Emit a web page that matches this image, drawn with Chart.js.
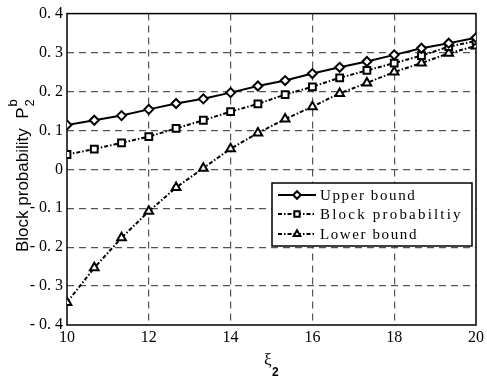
<!DOCTYPE html>
<html>
<head>
<meta charset="utf-8">
<script src="https://cdn.jsdelivr.net/npm/chart.js@4/dist/chart.umd.min.js"></script>
<style>
  html, body { margin: 0; padding: 0; background: #fff; }
  #wrap { width: 487px; height: 378px; position: relative; }
</style>
</head>
<body>
<div id="wrap"><canvas id="c"></canvas></div>
<script>
// ---- data ----
const xValues = [10, 10.667, 11.333, 12, 12.667, 13.333, 14, 14.667, 15.333, 16, 16.667, 17.333, 18, 18.667, 19.333, 20];
const upperBound = [0.114, 0.126, 0.138, 0.154, 0.169, 0.181, 0.197, 0.214, 0.228, 0.246, 0.262, 0.277, 0.294, 0.311, 0.324, 0.338];
const blockProb  = [0.038, 0.052, 0.068, 0.084, 0.105, 0.126, 0.148, 0.168, 0.192, 0.212, 0.235, 0.254, 0.273, 0.292, 0.315, 0.330];
const lowerBound = [-0.342, -0.253, -0.176, -0.108, -0.047, 0.003, 0.053, 0.093, 0.129, 0.161, 0.195, 0.222, 0.250, 0.273, 0.298, 0.317];
const seriesLabels = ['Upper bound', 'Block probabiltiy', 'Lower bound'];
const yTickLabels = ['- 0. 4', '- 0. 3', '- 0. 2', '- 0. 1', '0', '0. 1', '0. 2', '0. 3', '0. 4'];
const xTickLabels = ['10', '12', '14', '16', '18', '20'];
const yTitle = 'Block probability  P';
const xTitle = '\u03BE';

const pts = arr => arr.map((v, i) => ({ x: xValues[i], y: v }));
const SERIF = '"Liberation Serif", "DejaVu Serif", serif';
const SANS = '"Liberation Sans", Arial, sans-serif';

const styles = [
  { pointStyle: 'rectRot', radius: 4.5, dash: [] },
  { pointStyle: 'rect', radius: 4.8, dash: [4, 2, 1.5, 2] },
  { pointStyle: 'triangle', radius: 5, dash: [4, 2, 1.5, 2] }
];
const seriesData = [upperBound, blockProb, lowerBound];

const datasets = seriesData.map((arr, i) => ({
  label: seriesLabels[i],
  data: pts(arr),
  borderColor: '#000',
  backgroundColor: '#fff',
  borderWidth: 2,
  borderDash: styles[i].dash,
  pointStyle: styles[i].pointStyle,
  pointRadius: styles[i].radius,
  pointBorderWidth: 2,
  pointBackgroundColor: '#fff',
  pointBorderColor: '#000',
  tension: 0
}));

function drawMarker(ctx, style, r, x, y) {
  if (Chart.helpers && Chart.helpers.drawPoint) {
    Chart.helpers.drawPoint(ctx, { pointStyle: style, rotation: 0, radius: r, borderWidth: 2 }, x, y);
  }
}

const decor = {
  id: 'decor',
  beforeDatasetsDraw(chart) {
    const { ctx, chartArea: a } = chart;
    ctx.save();
    ctx.strokeStyle = '#000';
    ctx.lineWidth = 1.5;
    ctx.setLineDash([]);
    ctx.strokeRect(a.left, a.top, a.right - a.left, a.bottom - a.top);
    ctx.restore();
  },
  afterDraw(chart) {
    const { ctx, chartArea: a } = chart;
    ctx.save();
    // legend
    const lx = 272, ly = 183, lw = 200, lh = 63;
    ctx.fillStyle = '#fff';
    ctx.fillRect(lx, ly, lw, lh);
    ctx.strokeStyle = '#000';
    ctx.lineWidth = 1.5;
    ctx.setLineDash([]);
    ctx.strokeRect(lx, ly, lw, lh);
    const rowsY = [195, 214, 234];
    chart.data.datasets.forEach((ds, i) => {
      const y = rowsY[i];
      ctx.save();
      ctx.strokeStyle = '#000';
      ctx.lineWidth = 2;
      ctx.setLineDash(ds.borderDash);
      ctx.beginPath();
      ctx.moveTo(278, y);
      ctx.lineTo(316, y);
      ctx.stroke();
      ctx.setLineDash([]);
      ctx.fillStyle = '#fff';
      ctx.strokeStyle = '#000';
      ctx.lineWidth = 2;
      drawMarker(ctx, ds.pointStyle, 3.8, 297, y);
      ctx.restore();
      ctx.fillStyle = '#000';
      ctx.font = '15px ' + SERIF;
      ctx.letterSpacing = i === 1 ? '2.2px' : '1.6px';
      ctx.textBaseline = 'alphabetic';
      ctx.textAlign = 'left';
      ctx.fillText(ds.label, 320, y + 5);
      ctx.letterSpacing = '0px';
    });
    // y title
    ctx.save();
    ctx.translate(28, 252);
    ctx.rotate(-Math.PI / 2);
    ctx.fillStyle = '#000';
    ctx.font = '17px ' + SANS;
    ctx.textAlign = 'left';
    ctx.textBaseline = 'alphabetic';
    ctx.fillText(yTitle, 0, 0);
    const w = ctx.measureText(yTitle).width;
    ctx.font = '13px ' + SANS;
    ctx.fillText('b', w + 1, -11);
    ctx.fillText('2', w + 1, 6);
    ctx.restore();
    // x title
    ctx.fillStyle = '#000';
    ctx.font = '17px ' + SERIF;
    ctx.textAlign = 'left';
    ctx.fillText(xTitle, 264, 365);
    ctx.font = 'bold 12px ' + SANS;
    ctx.fillText('2', 272, 376);
    ctx.restore();
  }
};

new Chart(document.getElementById('c'), {
  type: 'line',
  data: { datasets },
  options: {
    responsive: true,
    maintainAspectRatio: false,
    animation: false,
    layout: { padding: { left: 0, right: 7, top: 10, bottom: 0 } },
    plugins: { legend: { display: false }, tooltip: { enabled: false } },
    scales: {
      x: {
        type: 'linear',
        min: 10, max: 20,
        afterFit: s => { s.height = 53; },
        afterBuildTicks: s => { s.ticks = xTickLabels.map(v => ({ value: Number(v) })); },
        ticks: {
          callback: (v) => { const i = xTickLabels.indexOf(String(v)); return i >= 0 ? xTickLabels[i] : ''; },
          font: { family: SERIF, size: 16 }, color: '#000', padding: 3, maxRotation: 0
        },
        grid: {
          drawTicks: false,
          color: c => (c.tick && (c.tick.value === 10 || c.tick.value === 20)) ? 'rgba(0,0,0,0)' : '#555',
          lineWidth: 1.2
        },
        border: { display: false, dash: [7, 5] }
      },
      y: {
        type: 'linear',
        min: -0.4, max: 0.4,
        afterFit: s => { s.width = 67; },
        ticks: {
          stepSize: 0.1,
          callback: (v) => yTickLabels[Math.round(v * 10) + 4],
          font: { family: SERIF, size: 16 }, color: '#000', padding: 4
        },
        grid: {
          drawTicks: false,
          color: c => (c.tick && Math.abs(Math.abs(c.tick.value) - 0.4) < 1e-6) ? 'rgba(0,0,0,0)' : '#555',
          lineWidth: 1.2
        },
        border: { display: false, dash: [7, 5] }
      }
    }
  },
  plugins: [decor]
});
</script>
</body>
</html>
